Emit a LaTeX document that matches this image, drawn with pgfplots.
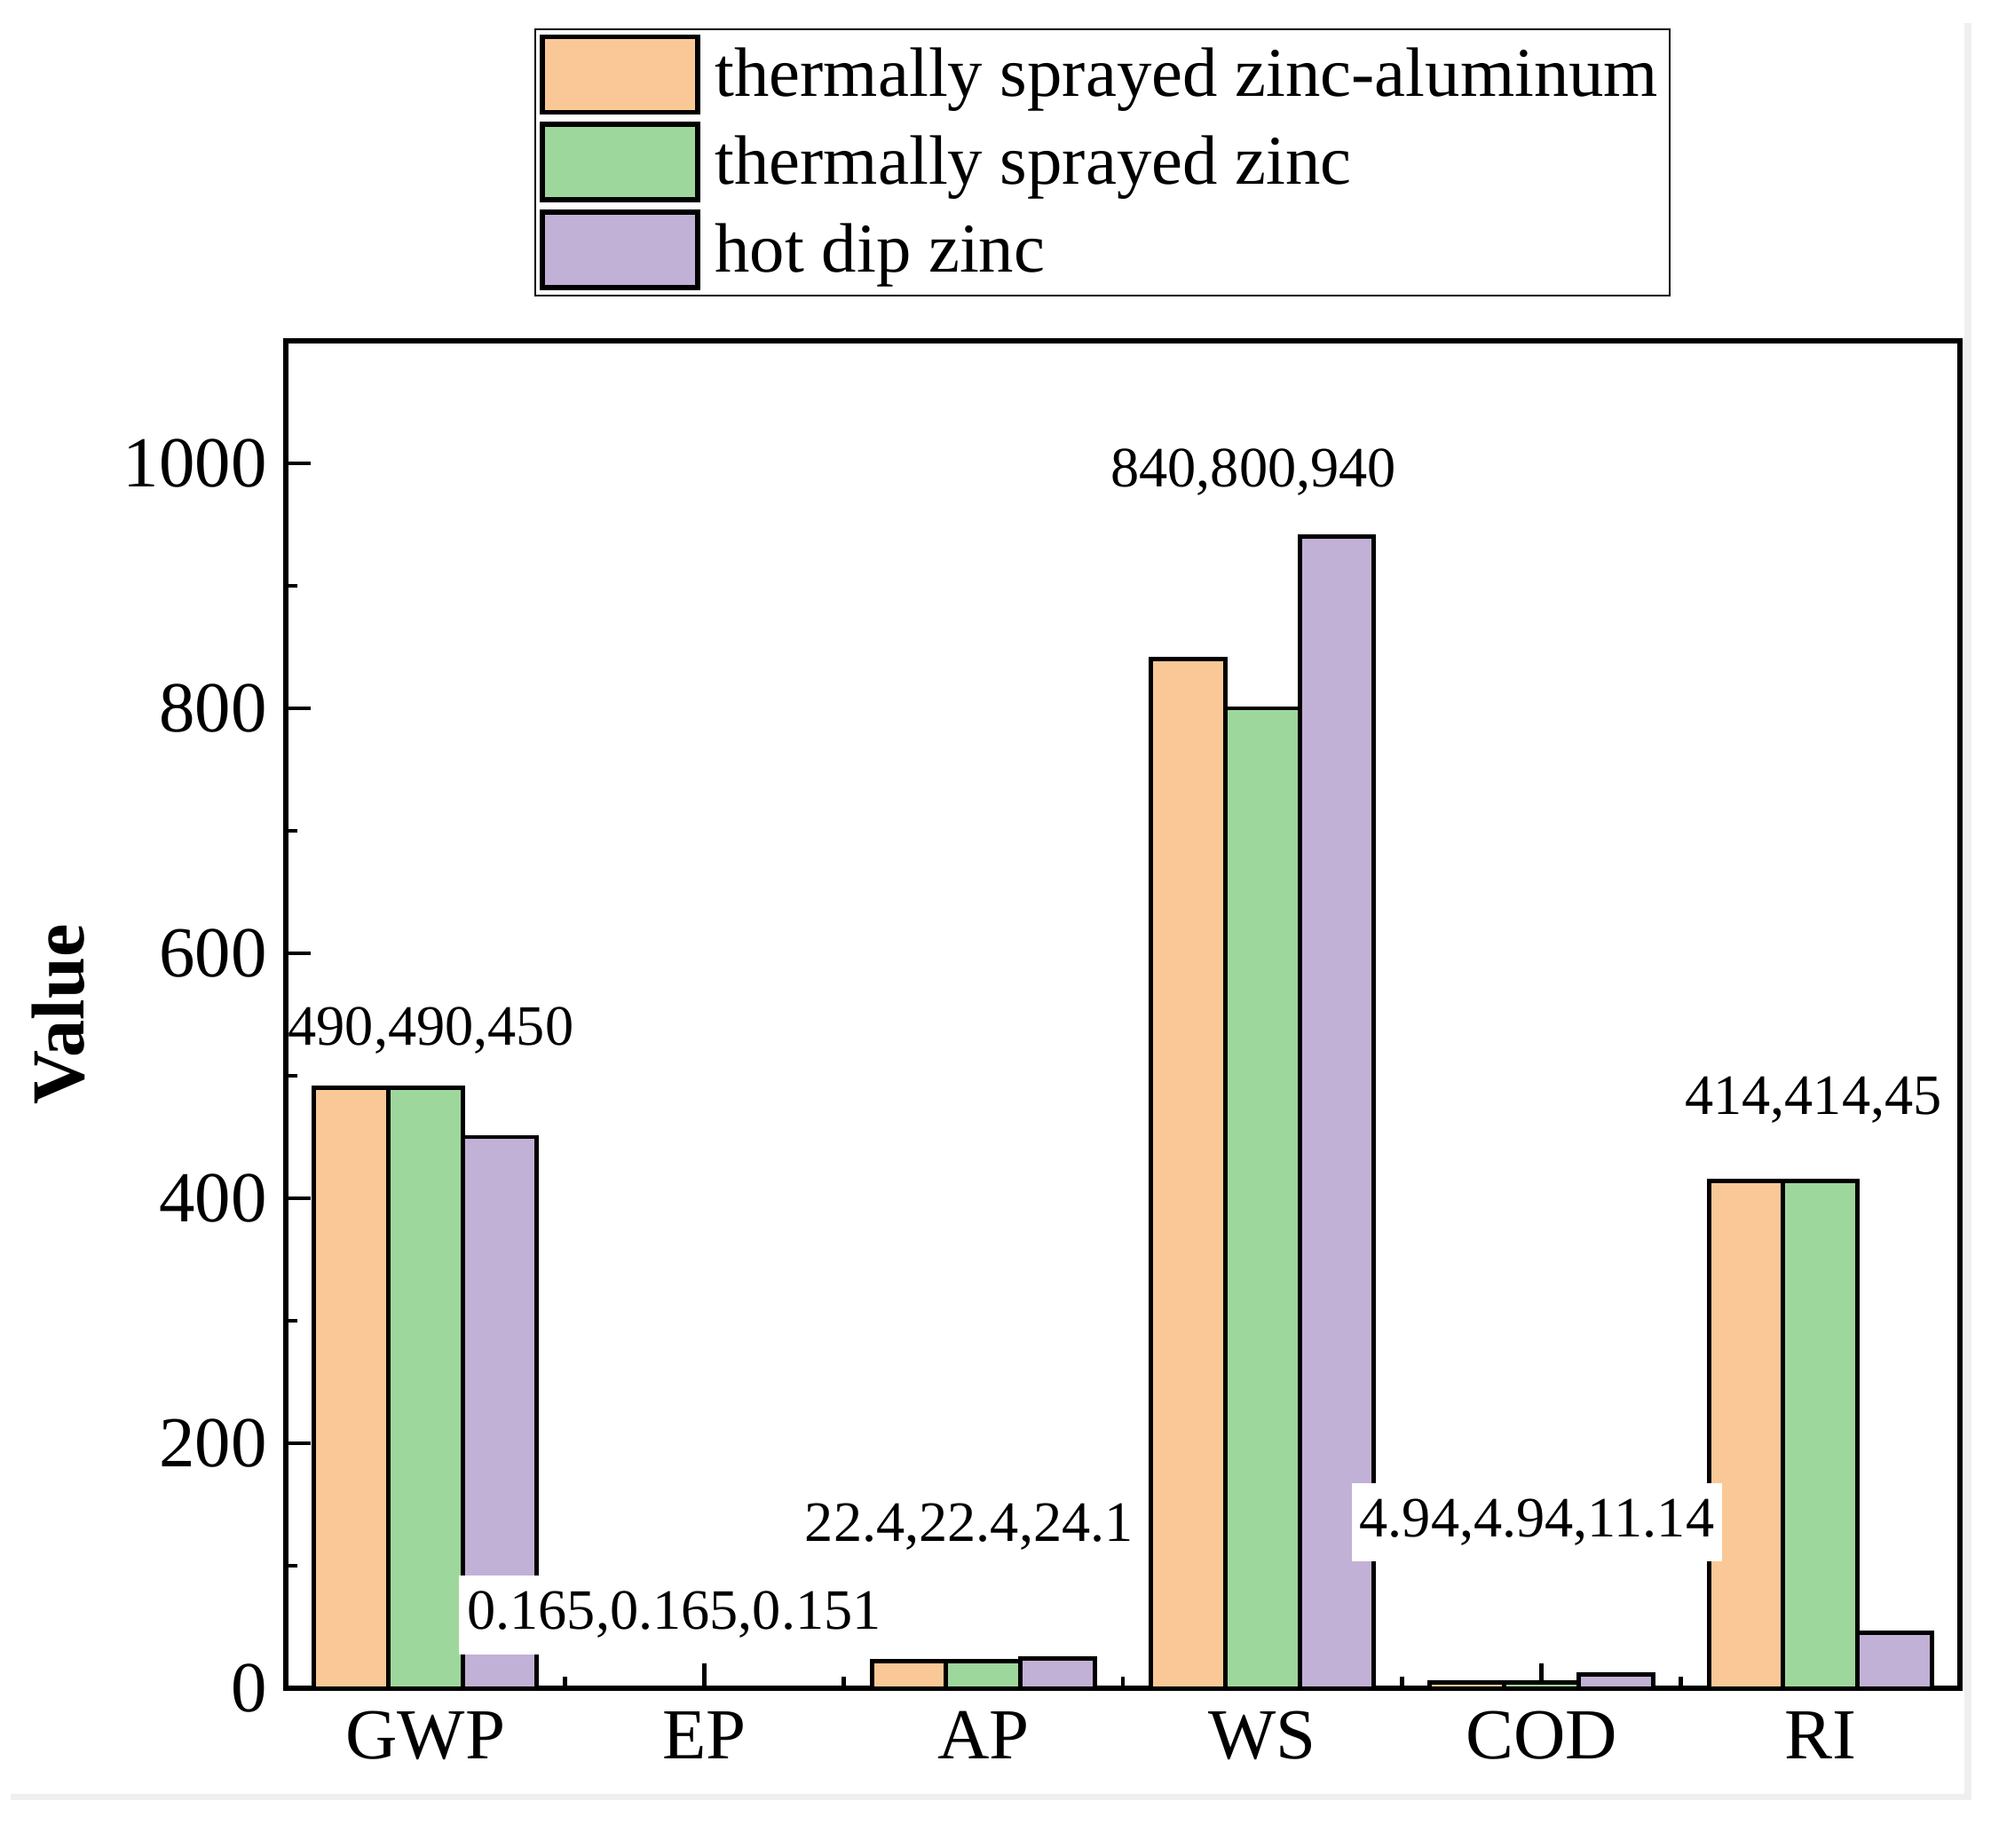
\documentclass[border=0pt]{standalone}
\usepackage{fontspec}
\setmainfont{Liberation Serif}
\usepackage{pgfplots}
\pgfplotsset{compat=1.18}

\definecolor{tsza}{RGB}{250,200,150}
\definecolor{tsz}{RGB}{158,215,155}
\definecolor{hdz}{RGB}{194,177,214}
\definecolor{framegray}{RGB}{239,239,239}
\newcommand\tickfont{\fontsize{23}{27}\selectfont}
\newcommand\legfont{\fontsize{22.4}{26}\selectfont}
\newcommand\labfont{\fontsize{24}{28}\selectfont}
\newcommand\valfont{\fontsize{18.3}{21}\selectfont}
\tikzset{lbl/.style={inner xsep=0.9mm, inner ysep=1.8mm, font=\valfont},
         lblbox/.style={lbl, fill=white}}

\begin{document}
\begin{tikzpicture}
\useasboundingbox (-32.2mm,-18mm) rectangle (193mm,190.2mm);
\begin{axis}[
    at={(0,0)}, anchor=south west,
    scale only axis, width=188.6mm, height=151.8mm,
    xmin=-0.5, xmax=5.5, ymin=0, ymax=1100,
    enlargelimits=false, clip=false,
    ybar=0pt, bar width=8.38mm,
    xtick={0,...,5}, xticklabels={GWP,EP,AP,WS,COD,RI},
    minor xtick={0.5,1.5,2.5,3.5,4.5},
    ytick={0,200,...,1000}, minor ytick={100,300,...,900},
    tick align=inside, xtick pos=bottom, ytick pos=left,
    major tick length=2.8mm, minor tick length=1.3mm,
    every tick/.style={black, line width=1.4pt},
    axis line style={line width=1.5pt},
    tick label style={font=\tickfont},
    xticklabel style={yshift=-1.4mm},
    yticklabel style={xshift=-0.9mm},
    /pgf/number format/assume math mode=true,
    /pgf/number format/1000 sep={},
    ylabel={\bfseries Value},
    ylabel style={font=\labfont, at={(axis description cs:-0.1357,0.5)}, anchor=center},
    legend style={at={(0.1485,1.2319)}, anchor=north west, draw=black, line width=0.5pt,
        fill=white, inner xsep=0.5mm, inner ysep=0.6mm, row sep=0.8mm, column sep=0.9mm,
        font=\legfont, cells={anchor=west}, nodes={inner sep=0.8mm}},
    every axis plot post/.append style={
        legend image code/.code={\draw[##1, line width=1.6pt] (0mm,-4.25mm) rectangle (17.5mm,4.25mm);}},
]
% GWP, EP, AP, WS, COD, RI
\addplot[fill=tsza, draw=black, line width=1.4pt]
    coordinates {(0,490) (1,0.165) (2,22.4) (3,840) (4,4.94) (5,414)};
\addplot[fill=tsz, draw=black, line width=1.4pt]
    coordinates {(0,490) (1,0.165) (2,22.4) (3,800) (4,4.94) (5,414)};
\addplot[fill=hdz, draw=black, line width=1.4pt]
    coordinates {(0,450) (1,0.151) (2,24.1) (3,940) (4,11.14) (5,45)};
\legend{thermally sprayed zinc-aluminum, thermally sprayed zinc, hot dip zinc}

\node[lbl] at (axis cs:0.02,537) {490,490,450};
\node[lblbox] at (axis cs:0.892,60) {0.165,0.165,0.151};
\node[lbl] at (axis cs:1.949,132) {22.4,22.4,24.1};
\node[lbl] at (axis cs:2.968,993) {840,800,940};
\node[lblbox] at (axis cs:3.984,135.5) {4.94,4.94,11.14};
\node[lbl] at (axis cs:4.975,480) {414,414,45};
\end{axis}
% light frame lines at the right and bottom edge of the original image
\fill[framegray] (189.1mm,-12.6mm) rectangle (189.9mm,187.6mm);
\fill[framegray] (-31mm,-12.6mm) rectangle (189.9mm,-11.9mm);
\end{tikzpicture}
\end{document}
